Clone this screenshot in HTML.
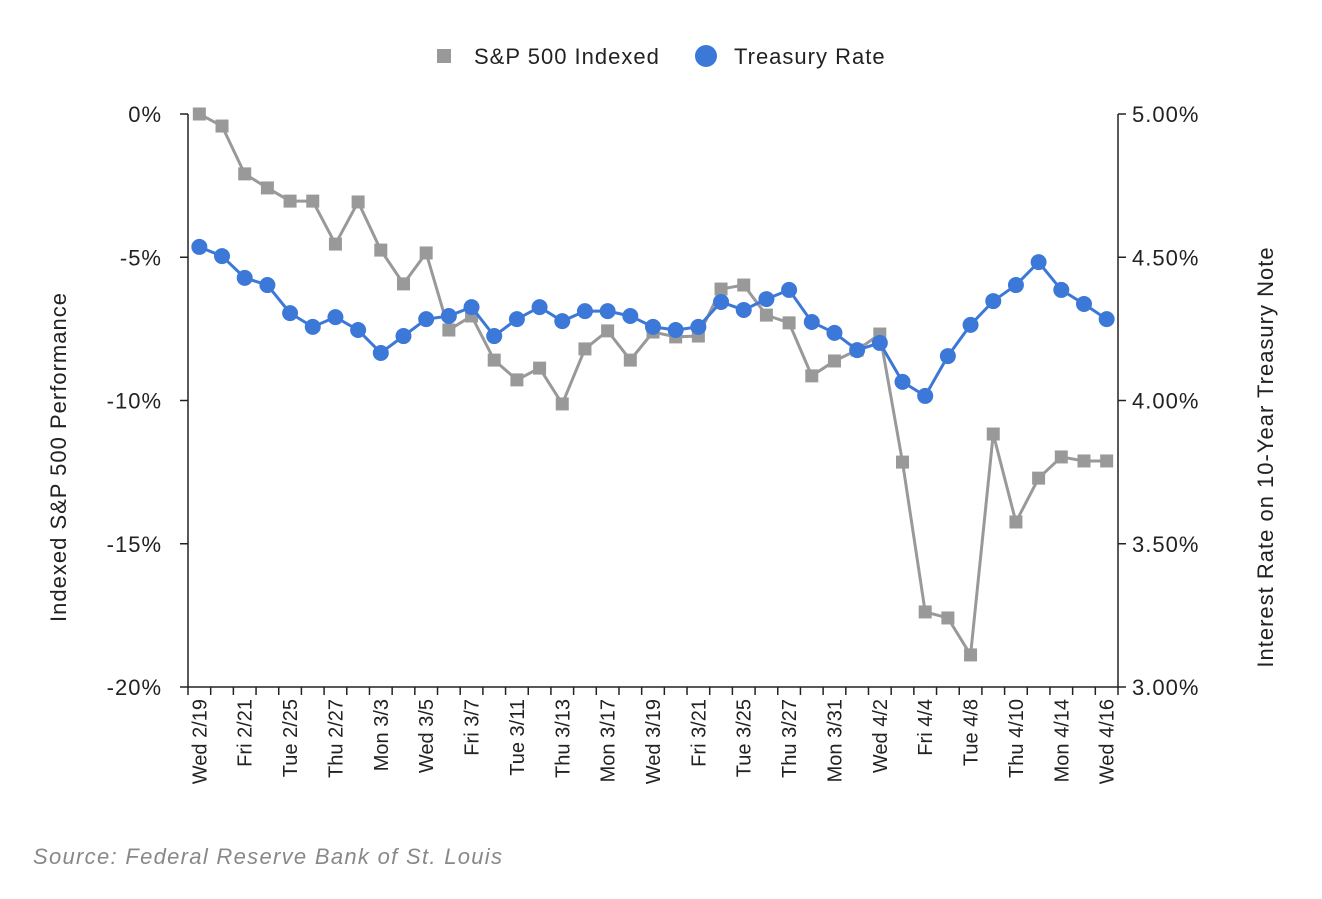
<!DOCTYPE html>
<html><head><meta charset="utf-8"><style>
body{margin:0;background:#fff;}
svg text{font-family:"Liberation Sans",Arial,sans-serif;}
.w{font-size:22px;letter-spacing:1px;}
</style></head><body>
<svg id="chart" width="1322" height="894" xmlns="http://www.w3.org/2000/svg">
<g id="legend">
 <rect x="437" y="49" width="14" height="14" fill="#999"/>
 <text class="w" x="474" y="64" fill="#222">S&amp;P 500 Indexed</text>
 <circle cx="706" cy="56" r="11" fill="#3b78d8"/>
 <text class="w" x="734" y="64" fill="#222">Treasury Rate</text>
</g>
<text class="w" transform="translate(66,457) rotate(-90)" text-anchor="middle" fill="#222">Indexed S&amp;P 500 Performance</text>
<text class="w" transform="translate(1273,457) rotate(-90)" text-anchor="middle" fill="#222">Interest Rate on 10-Year Treasury Note</text>
<text x="33" y="864" font-size="22" letter-spacing="1.3" font-style="italic" fill="#888">Source: Federal Reserve Bank of St. Louis</text>
<g id="axes"></g><g id="marks"></g>
</svg>
<script>
const dates=["Wed 2/19","Thu 2/20","Fri 2/21","Mon 2/24","Tue 2/25","Wed 2/26","Thu 2/27","Fri 2/28","Mon 3/3","Tue 3/4","Wed 3/5","Thu 3/6","Fri 3/7","Mon 3/10","Tue 3/11","Wed 3/12","Thu 3/13","Fri 3/14","Mon 3/17","Tue 3/18","Wed 3/19","Thu 3/20","Fri 3/21","Mon 3/24","Tue 3/25","Wed 3/26","Thu 3/27","Fri 3/28","Mon 3/31","Tue 4/1","Wed 4/2","Thu 4/3","Fri 4/4","Mon 4/7","Tue 4/8","Wed 4/9","Thu 4/10","Fri 4/11","Mon 4/14","Tue 4/15","Wed 4/16"];
const sp500=[0,-0.42,-2.09,-2.58,-3.04,-3.04,-4.54,-3.07,-4.75,-5.93,-4.85,-7.54,-7.05,-8.59,-9.28,-8.87,-10.12,-8.20,-7.57,-8.59,-7.61,-7.78,-7.75,-6.11,-5.97,-7.02,-7.29,-9.14,-8.62,-8.24,-7.68,-12.15,-17.38,-17.59,-18.88,-11.17,-14.24,-12.71,-11.97,-12.11,-12.11];
const treasury=[4.536,4.504,4.428,4.403,4.305,4.257,4.291,4.246,4.166,4.225,4.284,4.295,4.326,4.225,4.284,4.326,4.277,4.312,4.312,4.295,4.257,4.246,4.257,4.344,4.316,4.354,4.386,4.274,4.236,4.176,4.201,4.065,4.016,4.155,4.264,4.347,4.403,4.483,4.386,4.337,4.284];
const leftTicks=[0,-5,-10,-15,-20];
const leftTickLabels=["0%","-5%","-10%","-15%","-20%"];
const rightTicks=[5,4.5,4,3.5,3];
const rightTickLabels=["5.00%","4.50%","4.00%","3.50%","3.00%"];

const NS="http://www.w3.org/2000/svg";
const L=188,R=1118,T=114,B=687;
const step=(R-L)/dates.length;
const xS=i=>L+step*(i+0.5);
const yL=v=>T+(0-v)/20*(B-T);
const yR=v=>T+(5-v)/2*(B-T);
function mk(tag,attrs,parent){const e=document.createElementNS(NS,tag);for(const k in attrs)e.setAttribute(k,attrs[k]);parent.appendChild(e);return e;}
const ax=document.getElementById('axes'),mg=document.getElementById('marks');
let e;
e=mk('line',{x1:L,y1:T,x2:L,y2:B,stroke:'#222','stroke-width':1.5},ax);


e=mk('line',{x1:R,y1:T,x2:R,y2:B,stroke:'#222','stroke-width':1.5},ax);


e=mk('line',{x1:L,y1:B,x2:R,y2:B,stroke:'#222','stroke-width':1.5},ax);


leftTicks.forEach((v,i)=>{const y=yL(v);
 mk('line',{x1:L-8,y1:y,x2:L,y2:y,stroke:'#222','stroke-width':1.5},ax);
 const t=mk('text',{x:162,y:y+8,'text-anchor':'end','class':'w',fill:'#222'},ax);t.textContent=leftTickLabels[i];
 
 });
rightTicks.forEach((v,i)=>{const y=yR(v);
 mk('line',{x1:R,y1:y,x2:R+8,y2:y,stroke:'#222','stroke-width':1.5},ax);
 const t=mk('text',{x:1132,y:y+8,'class':'w',fill:'#222'},ax);t.textContent=rightTickLabels[i];
 
 });
for(let i=0;i<=dates.length;i++){const x=L+step*i;mk('line',{x1:x,y1:B,x2:x,y2:B+8,stroke:'#222','stroke-width':1.5},ax);}
dates.forEach((d,i)=>{if(i%2)return;const x=xS(i);
 const t=mk('text',{transform:`translate(${x+7},${B+12}) rotate(-90)`,'text-anchor':'end','font-size':20,fill:'#222'},ax);t.textContent=d;
 
 });
const gp=sp500.map((v,i)=>xS(i)+','+yL(v)).join(' ');
e=mk('polyline',{points:gp,fill:'none',stroke:'#999','stroke-width':3},mg);


sp500.forEach((v,i)=>{const r=mk('rect',{x:xS(i)-6.5,y:yL(v)-6.5,width:13,height:13,fill:'#999'},mg);
 
 });
const bp=treasury.map((v,i)=>xS(i)+','+yR(v)).join(' ');
e=mk('polyline',{points:bp,fill:'none',stroke:'#3b78d8','stroke-width':3},mg);


treasury.forEach((v,i)=>{const c=mk('circle',{cx:xS(i),cy:yR(v),r:8,fill:'#3b78d8'},mg);
 
 });
</script>
</body></html>
